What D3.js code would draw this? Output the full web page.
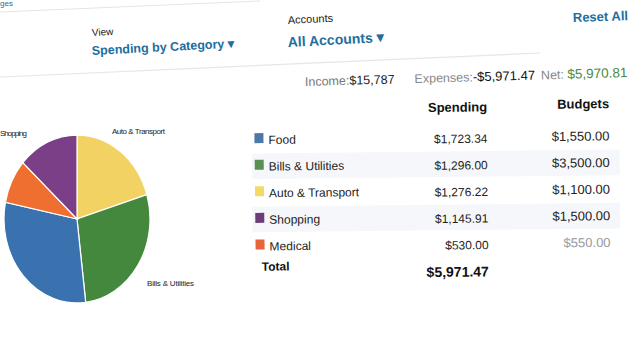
<!DOCTYPE html>
<html lang="en">
<head>
    <meta charset="UTF-8">
    <title>Spending by Category</title>
    <script src="https://d3js.org/d3.v7.min.js"></script>
    <style>
        body { margin: 0; background: #fff; }
        svg { display: block; font-family: "Liberation Sans", Arial, sans-serif; }
    </style>
</head>
<body>
    <div id="chart"></div>

    <script>
        // Table data
        const categories = ["Food", "Bills & Utilities", "Auto & Transport", "Shopping", "Medical"];
        const spending = [1723.34, 1296.00, 1276.22, 1145.91, 530.00];
        const budgets = [1550.00, 3500.00, 1100.00, 1500.00, 550.00];
        const swatchColors = ["#4a78a8", "#5a9150", "#f4d964", "#6c3d78", "#e8643a"];

        // Pie slices, clockwise from the top, share in %
        const pieCategories = ["Auto & Transport", "Bills & Utilities", "Food", "Medical", "Shopping"];
        const pieShare = [20.3, 27.8, 30.1, 8.5, 13.3];
        const pieColors = ["#f2d262", "#43883c", "#3a72b0", "#ee6f30", "#7b3f88"];
        const pieLabels = ["Auto & Transport", "Bills & Utilities", "Shopping"];

        const summary = { income: "$15,787", expenses: "-$5,971.47", net: "$5,970.81" };

        const width = 640, height = 360;
        const teal = "#1e6e9e";
        const fmt = d3.format("$,.2f");

        const svg = d3.select("#chart").append("svg")
            .attr("width", width).attr("height", height);

        // --- header lines ---
        svg.append("line").attr("x1", 0).attr("y1", 12).attr("x2", 260).attr("y2", 1)
            .attr("stroke", "#e2e5e8").attr("stroke-width", 1);
        svg.append("text").attr("x", 0).attr("y", 6).attr("font-size", 8)
            .attr("fill", teal).text("ges");
        svg.append("line").attr("x1", 0).attr("y1", 77).attr("x2", 540).attr("y2", 53)
            .attr("stroke", "#e4e6e9").attr("stroke-width", 1.2);

        // --- header texts ---
        function tilted(x, y, deg) {
            return svg.append("text")
                .attr("transform", `translate(${x},${y}) rotate(${deg})`);
        }
        tilted(92, 36, -3).attr("font-size", 10).attr("fill", "#222").text("View");
        tilted(92, 55, -3).attr("font-size", 12.5).attr("font-weight", "bold")
            .attr("fill", teal).text("Spending by Category \u25BE");
        tilted(288, 24, -3).attr("font-size", 11).attr("fill", "#222").text("Accounts");
        tilted(288, 47, -3).attr("font-size", 14).attr("font-weight", "bold")
            .attr("fill", teal).text("All Accounts \u25BE");
        tilted(573, 22, -2).attr("font-size", 13).attr("font-weight", "bold")
            .attr("fill", teal).text("Reset All");

        // --- income / expenses / net ---
        const sumRow = svg.append("text")
            .attr("transform", "translate(305,86) rotate(-1.6)")
            .attr("font-size", 12.5);
        sumRow.append("tspan").attr("fill", "#777").text("Income:");
        sumRow.append("tspan").attr("fill", "#222").text(summary.income);
        sumRow.append("tspan").attr("dx", 20).attr("fill", "#888").text("Expenses:");
        sumRow.append("tspan").attr("fill", "#111").attr("font-size", 13).text(summary.expenses);
        sumRow.append("tspan").attr("dx", 6).attr("fill", "#888").text("Net: ");
        sumRow.append("tspan").attr("fill", "#4b8a44").attr("font-size", 13.5).text(summary.net);

        // --- pie (slightly stretched by the perspective) ---
        const pieG = svg.append("g").attr("transform", "translate(77,219) scale(1,1.15)");
        const radius = 73;
        const pie = d3.pie().sort(null).value(d => d.share);
        const arc = d3.arc().innerRadius(0).outerRadius(radius);
        const pieData = pie(pieCategories.map((c, i) => ({ name: c, share: pieShare[i], color: pieColors[i] })));

        pieG.selectAll("path").data(pieData).enter().append("path")
            .attr("d", arc)
            .attr("fill", d => d.data.color)
            .attr("stroke", "#fff").attr("stroke-width", 1.2)
            .attr("vector-effect", "non-scaling-stroke");

        // pie labels, outside the slices
        const labelPos = {
            "Auto & Transport": [112, 134],
            "Bills & Utilities": [147, 286],
            "Shopping": [0, 136]
        };
        const labelLen = { "Auto & Transport": 53, "Bills & Utilities": 47, "Shopping": 27 };
        svg.selectAll(".pie-label").data(pieData.filter(d => pieLabels.includes(d.data.name)))
            .enter().append("text")
            .attr("class", "pie-label")
            .attr("x", d => labelPos[d.data.name][0])
            .attr("y", d => labelPos[d.data.name][1])
            .attr("font-size", 8).attr("fill", "#222")
            .attr("textLength", d => labelLen[d.data.name])
            .text(d => d.data.name);

        // --- table ---
        const table = svg.append("g").attr("transform", "rotate(-0.6, 430, 190)");
        const y = d3.scaleBand().domain(categories).range([124, 257]);
        const xLabel = 269, xSpend = 488, xBudget = 610;

        // striped rows
        table.selectAll(".stripe").data(categories.filter((d, i) => i % 2 === 1))
            .enter().append("rect")
            .attr("x", 252).attr("width", 368)
            .attr("y", d => y(d) + 1).attr("height", y.bandwidth() - 1)
            .attr("fill", "#f5f7fa");

        table.append("text").attr("x", xSpend).attr("y", 112).attr("text-anchor", "end")
            .attr("font-size", 13).attr("font-weight", "bold").attr("fill", "#111").text("Spending");
        table.append("text").attr("x", xBudget).attr("y", 110).attr("text-anchor", "end")
            .attr("font-size", 13).attr("font-weight", "bold").attr("fill", "#111").text("Budgets");

        const rows = table.selectAll(".row").data(categories).enter().append("g")
            .attr("class", "row")
            .attr("transform", d => `translate(0,${y(d) + y.bandwidth() / 2})`);

        rows.append("rect").attr("x", 255).attr("y", -6).attr("width", 9).attr("height", 10)
            .attr("fill", (d, i) => swatchColors[i]);
        rows.append("text").attr("x", xLabel).attr("y", 5)
            .attr("font-size", 12).attr("fill", "#222").text(d => d);
        rows.append("text").attr("x", xSpend).attr("y", 6).attr("text-anchor", "end")
            .attr("font-size", 12).attr("fill", "#222").text((d, i) => fmt(spending[i]));
        rows.append("text").attr("x", xBudget).attr("y", 5).attr("text-anchor", "end")
            .attr("font-size", 13).attr("fill", (d, i) => i === categories.length - 1 ? "#999" : "#222")
            .text((d, i) => fmt(budgets[i]));

        const total = d3.sum(spending);
        table.append("text").attr("x", 261).attr("y", 269)
            .attr("font-size", 12).attr("font-weight", "bold").attr("fill", "#111").text("Total");
        table.append("text").attr("x", xSpend).attr("y", 277).attr("text-anchor", "end")
            .attr("font-size", 14).attr("font-weight", "bold").attr("fill", "#111").text(fmt(total));
    </script>
</body>
</html>
